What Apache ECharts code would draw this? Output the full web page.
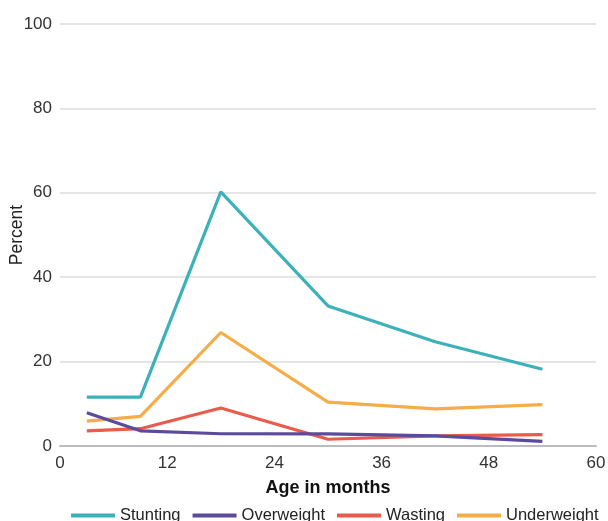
<!DOCTYPE html>
<html><head><meta charset="utf-8">
<script src="https://cdn.jsdelivr.net/npm/echarts@6/dist/echarts.min.js"></script>
<style>html,body{margin:0;padding:0;background:#fff}#c{width:608px;height:521px}</style>
</head><body><div id="c"></div>
<script>
const ages = [3, 9, 18, 30, 42, 54];
const stunting = [11.6, 11.6, 60.2, 33.2, 24.7, 18.2];
const overweight = [7.9, 3.6, 2.9, 2.85, 2.4, 1.1];
const wasting = [3.6, 4.1, 9.0, 1.6, 2.4, 2.7];
const underweight = [5.9, 7.0, 26.9, 10.4, 8.8, 9.8];
const seriesNames = ['Stunting', 'Overweight', 'Wasting', 'Underweight'];
const colors = ['#3cb1b9', '#5c4b9c', '#e95b4b', '#f5ad47'];
const allData = [stunting, overweight, wasting, underweight];
const font = 'Liberation Sans';
const chart = echarts.init(document.getElementById('c'));
chart.setOption({
  animation: false,
  textStyle: { fontFamily: font },
  grid: { left: 60, right: 12, top: 24, bottom: 75, containLabel: false, outerBoundsMode: 'none' },
  legend: {
    top: 502, left: 66, itemWidth: 44, itemHeight: 4, itemGap: 12,
    icon: 'rect',
    textStyle: { fontSize: 16.5, color: '#222', fontFamily: font },
    data: seriesNames
  },
  xAxis: {
    type: 'value', min: 0, max: 60, interval: 12,
    name: 'Age in months', nameLocation: 'middle', nameGap: 33, nameMoveOverlap: false,
    nameTextStyle: { fontSize: 18, fontWeight: 'bold', color: '#111', fontFamily: font },
    axisLine: { show: true, lineStyle: { color: '#bbbbc0', width: 2 } },
    axisTick: { show: false },
    splitLine: { show: false },
    axisLabel: { fontSize: 17, color: '#333', margin: 9 }
  },
  yAxis: {
    type: 'value', min: 0, max: 100, interval: 20,
    name: 'Percent', nameLocation: 'middle', nameGap: 34, nameMoveOverlap: false,
    nameTextStyle: { fontSize: 17.5, color: '#222', fontFamily: font },
    axisLine: { show: false }, axisTick: { show: false },
    splitLine: { lineStyle: { color: '#dcdcdc', width: 1.5 } },
    axisLabel: { fontSize: 17, color: '#333', margin: 8 }
  },
  series: seriesNames.map((n, i) => ({
    name: n, type: 'line', showSymbol: false, symbol: 'none',
    data: ages.map((a, j) => [a, allData[i][j]]),
    lineStyle: { color: colors[i], width: 3.2 },
    itemStyle: { color: colors[i] },
    z: 4 - i
  }))
});
</script></body></html>
